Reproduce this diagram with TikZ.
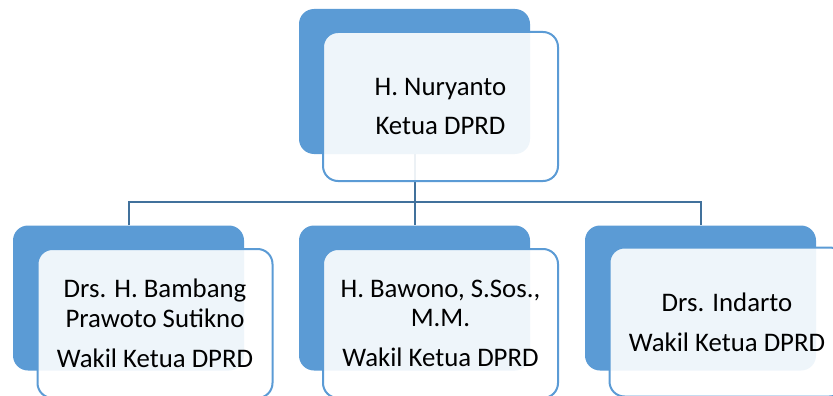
\documentclass[tikz,border=0pt]{standalone}
\usepackage{fontspec}
\setmainfont{Carlito}
\definecolor{cardblue}{HTML}{5B9BD5}
\definecolor{linkblue}{HTML}{41719C}
\begin{document}
\begin{tikzpicture}[x=1pt,y=-1pt,
  backcard/.style={fill=cardblue, rounded corners=15pt, minimum width=231pt, minimum height=145pt, inner sep=0pt},
  frontcard/.style={draw=cardblue, line width=2pt, fill=white, fill opacity=0.9, text opacity=1, rounded corners=15pt, minimum width=235pt, minimum height=149pt, inner sep=0pt, align=center, font=\fontsize{26.8}{29.5}\selectfont},
  link/.style={draw=linkblue, line width=2pt}]
\useasboundingbox (0,0) rectangle (833,396);
\clip (0,0) rectangle (833,396);
\node[backcard] (topb) at (414.5,81.5) {};
\node[backcard] (leftb) at (128.5,298) {};
\node[backcard] (midb) at (414.5,298) {};
\node[backcard] (rightb) at (700.5,298) {};
\coordinate (hub) at (414.5,202);
\draw[link] (topb.south) -- (midb.north);
\draw[link] (leftb.north) |- (hub) -| (rightb.north);
\node[frontcard] (topf) at (440.5,106.5) {H. Nuryanto\\[9.5pt]Ketua DPRD};
\node[frontcard] (leftf) at (155,323.5) {Drs. H. Bambang\\Prawoto Sutikno\\[10.5pt]Wakil Ketua DPRD};
\node[frontcard] (midf) at (440.5,323.5) {H. Bawono, S.Sos.,\\M.M.\\[10.5pt]Wakil Ketua DPRD};
\node[frontcard] (rightf) at (727,322) {Drs. Indarto\\[10.5pt]Wakil Ketua DPRD};
\end{tikzpicture}
\end{document}
